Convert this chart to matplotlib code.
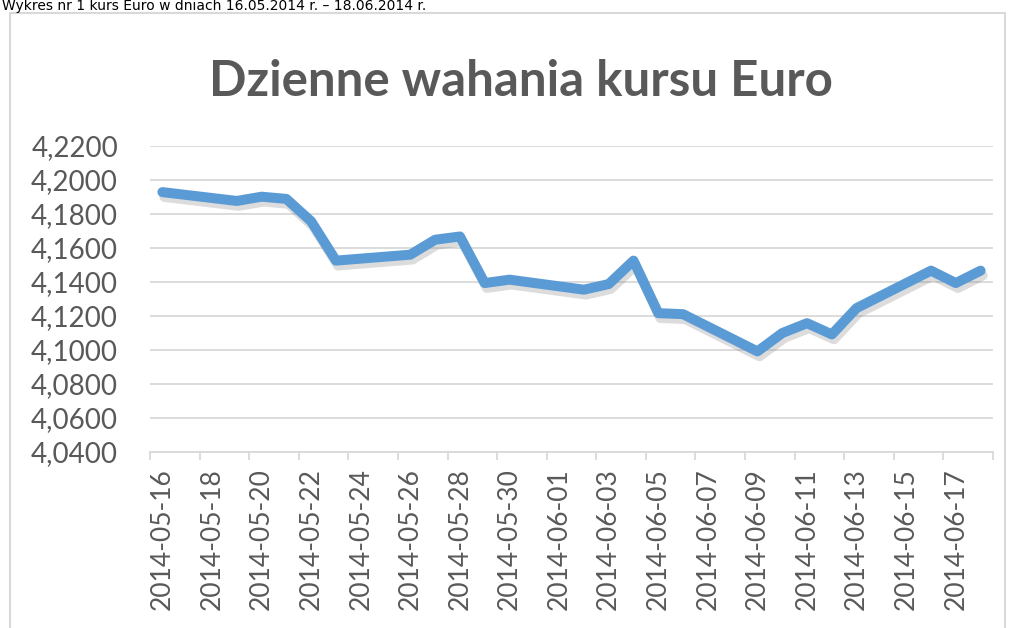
import matplotlib
matplotlib.use("Agg")
import matplotlib.pyplot as plt
import matplotlib.patheffects as pe
from matplotlib.patches import Rectangle
from matplotlib.ticker import FuncFormatter, FixedLocator
import pandas as pd

# ---- data ----
dates = ["2014-05-16", "2014-05-19", "2014-05-20", "2014-05-21", "2014-05-22", "2014-05-23",
         "2014-05-26", "2014-05-27", "2014-05-28", "2014-05-29", "2014-05-30",
         "2014-06-02", "2014-06-03", "2014-06-04", "2014-06-05", "2014-06-06",
         "2014-06-09", "2014-06-10", "2014-06-11", "2014-06-12", "2014-06-13",
         "2014-06-16", "2014-06-17", "2014-06-18"]
rates = [4.1927, 4.1875, 4.1900, 4.1887, 4.1755, 4.1524,
         4.1559, 4.1647, 4.1666, 4.1392, 4.1412,
         4.1353, 4.1386, 4.1524, 4.1215, 4.1209,
         4.0990, 4.1098, 4.1156, 4.1090, 4.1245,
         4.1465, 4.1392, 4.1465]
title = "Dzienne wahania kursu Euro"
caption = "Wykres nr 1 kurs Euro w dniach 16.05.2014 r. – 18.06.2014 r."
y_min, y_max, y_step = 4.04, 4.22, 0.02

plt.rcParams['font.family'] = ['Lato', 'DejaVu Sans']
TXT = '#595959'
GRID = '#d9d9d9'
LINE = '#5b9bd5'

d = pd.to_datetime(dates)
start = d.min()
end = d.max()
x = (d - start).days.values
ndays = (end - start).days + 1

fig = plt.figure(figsize=(10.17, 6.28), dpi=100)
ax = fig.add_axes([150/1017, 1-451.7/628, (993-150)/1017, (451.7-145.7)/628])

ax.plot(x, rates, color=LINE, lw=7.2, solid_joinstyle='round', solid_capstyle='round',
        path_effects=[pe.SimpleLineShadow(offset=(1.5, -3.5), shadow_color='#8c8c8c', alpha=0.3),
                      pe.Normal()], zorder=3)

ax.set_xlim(-0.5, ndays - 0.5)
ax.set_ylim(y_min, y_max)
yt = [y_min + i*y_step for i in range(int(round((y_max-y_min)/y_step)) + 1)]
ax.set_yticks(yt)
ax.yaxis.set_major_formatter(FuncFormatter(lambda v, p: f"{v:.4f}".replace('.', ',')))
ax.grid(axis='y', color=GRID, lw=1.3)
ax.set_axisbelow(True)

lab_pos = list(range(0, ndays, 2))
lab_txt = [(start + pd.Timedelta(days=int(i))).strftime('%Y-%m-%d') for i in lab_pos]
ax.set_xticks(lab_pos)
ax.set_xticklabels(lab_txt, rotation=90, va='top', ha='center')
ax.xaxis.set_minor_locator(FixedLocator([i - 0.5 for i in range(0, ndays + 1, 2)]))
ax.tick_params(axis='x', which='major', length=0, pad=12, labelsize=19, labelcolor=TXT)
ax.tick_params(axis='x', which='minor', length=6, width=1.3, color=GRID)
ax.tick_params(axis='y', length=0, pad=23, labelsize=20, labelcolor=TXT)

for s in ['left', 'right', 'top']:
    ax.spines[s].set_visible(False)
ax.spines['bottom'].set_color(GRID)
ax.spines['bottom'].set_linewidth(1.3)

fig.text(521/1017, 1-96/628, title, ha='center', va='baseline', fontsize=35.5,
         fontweight='bold', color=TXT)

# chart frame
fig.patches.append(Rectangle((10/1017, -0.05), (1005-10)/1017, 1.05 - 13/628,
                             transform=fig.transFigure, fill=False, edgecolor=GRID, lw=1.5))
# caption at the very top
fig.text(2/1017, 1-10/628, caption, ha='left', va='baseline', fontsize=10,
         color='black', family='DejaVu Sans')

fig.savefig('out.png', dpi=100)
